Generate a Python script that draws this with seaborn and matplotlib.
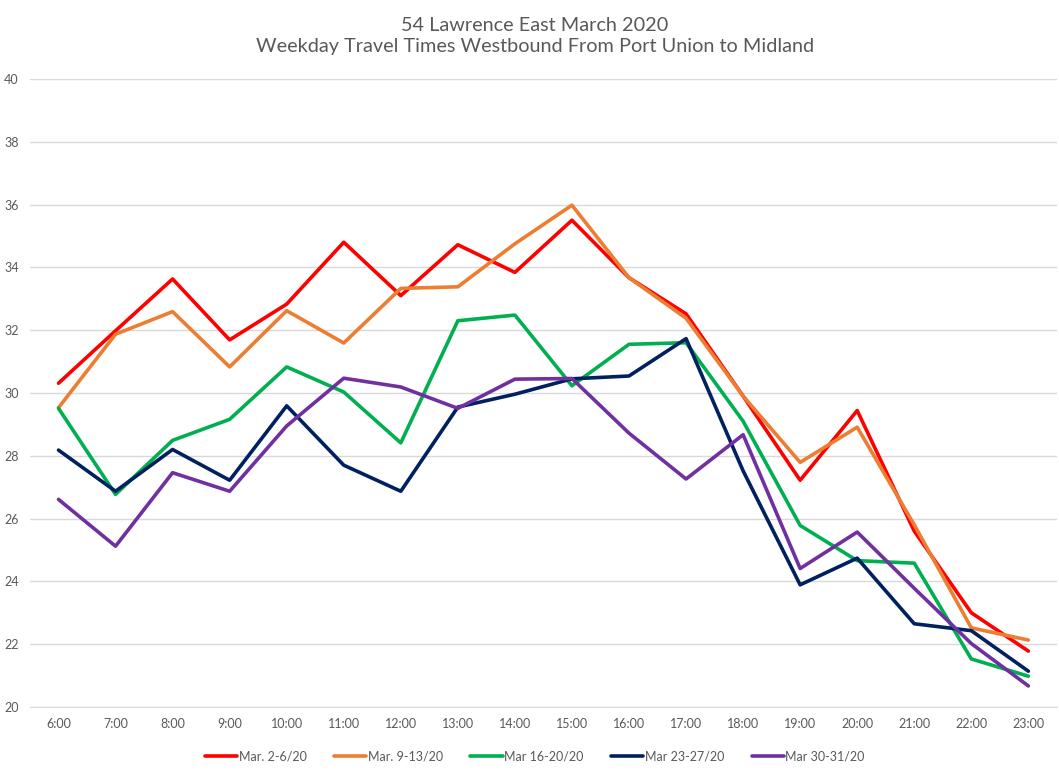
import pandas as pd
import matplotlib.pyplot as plt
import seaborn as sns

# Données (minutes)
hours = ["6:00", "7:00", "8:00", "9:00", "10:00", "11:00", "12:00", "13:00", "14:00",
         "15:00", "16:00", "17:00", "18:00", "19:00", "20:00", "21:00", "22:00", "23:00"]

mar_02_06 = [30.31, 31.98, 33.63, 31.69, 32.83, 34.80, 33.10, 34.72, 33.84,
             35.50, 33.67, 32.52, 29.90, 27.22, 29.44, 25.60, 23.00, 21.78]
mar_09_13 = [29.53, 31.87, 32.59, 30.83, 32.62, 31.59, 33.33, 33.38, 34.75,
             35.98, 33.67, 32.38, 29.90, 27.79, 28.91, 25.80, 22.52, 22.13]
mar_16_20 = [29.51, 26.77, 28.49, 29.16, 30.83, 30.03, 28.41, 32.30, 32.48,
             30.23, 31.55, 31.60, 29.10, 25.78, 24.66, 24.58, 21.53, 20.98]
mar_23_27 = [28.18, 26.87, 28.20, 27.22, 29.59, 27.70, 26.87, 29.55, 29.96,
             30.45, 30.54, 31.73, 27.52, 23.89, 24.74, 22.65, 22.43, 21.14]
mar_30_31 = [26.61, 25.12, 27.46, 26.87, 28.95, 30.47, 30.19, 29.51, 30.44,
             30.46, 28.72, 27.26, 28.67, 24.41, 25.57, 23.78, 22.02, 20.67]

series_names = ["Mar. 2-6/20", "Mar. 9-13/20", "Mar 16-20/20", "Mar 23-27/20", "Mar 30-31/20"]
series_values = [mar_02_06, mar_09_13, mar_16_20, mar_23_27, mar_30_31]
colors = ["#FF0000", "#ED7D31", "#00B050", "#002060", "#7030A0"]


def build_frame():
    rows = []
    for name, vals in zip(series_names, series_values):
        for h, v in zip(hours, vals):
            rows.append({"hour": h, "minutes": v, "week": name})
    return pd.DataFrame(rows)


def main():
    df = build_frame()
    sns.set_style("white")
    plt.rcParams["font.family"] = ["Lato", "DejaVu Sans"]

    fig = plt.figure(figsize=(10.59, 7.74), dpi=100)
    ax = fig.add_axes([0.0283, 0.0866, 0.9697, 0.8114])

    sns.lineplot(data=df, x="hour", y="minutes", hue="week", hue_order=series_names,
                 palette=colors, linewidth=2.6, sort=False, ax=ax, legend=True)

    ax.set_xlim(-0.5, len(hours) - 0.5)
    ax.set_ylim(20, 40)
    ax.set_yticks(range(20, 41, 2))
    ax.grid(axis="y", color="#D9D9D9", linewidth=1)
    ax.set_axisbelow(True)
    for s in ax.spines.values():
        s.set_visible(False)
    ax.spines["bottom"].set_visible(True)
    ax.spines["bottom"].set_color("#D9D9D9")
    ax.tick_params(axis="both", length=0, labelsize=9, labelcolor="#595959", pad=8)
    ax.set_xlabel("")
    ax.set_ylabel("")

    fig.text(0.505, 0.978, "54 Lawrence East March 2020\nWeekday Travel Times Westbound From Port Union to Midland",
             ha="center", va="top", fontsize=14.3, color="#595959", linespacing=1.3)

    handles, labels = ax.get_legend_handles_labels()
    ax.legend_.remove()
    fig.legend(handles, labels, loc="lower center", bbox_to_anchor=(0.505, 0.0), ncol=5,
               frameon=False, fontsize=9, labelcolor="#595959", handlelength=2.6,
               handletextpad=0.1, columnspacing=2.2)

    fig.savefig("out.png", dpi=100)


if __name__ == "__main__":
    main()
